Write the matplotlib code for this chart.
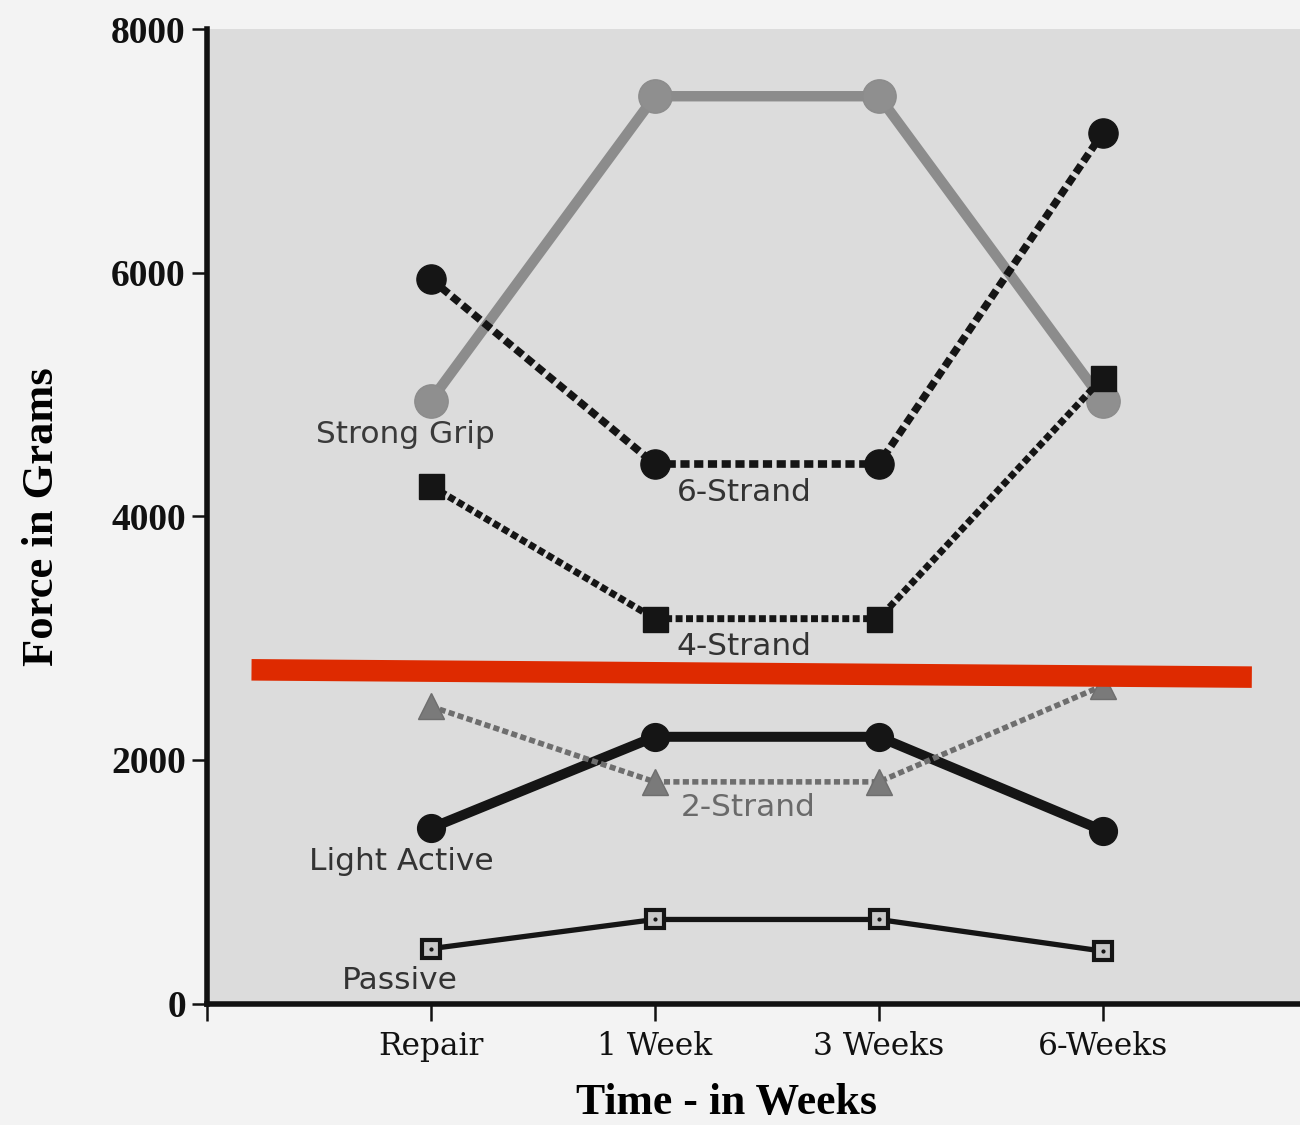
import numpy as np
import matplotlib.pyplot as plt

# Tendon repair strength vs. force applied during rehabilitation
times = ['Repair', '1 Week', '3 Weeks', '6-Weeks']
strong_grip = [4950, 7450, 7450, 4950]
six_strand = [5950, 4430, 4430, 7150]
four_strand = [4250, 3160, 3160, 5140]
two_strand = [2440, 1820, 1820, 2610]
light_active = [1440, 2190, 2190, 1420]
passive = [450, 690, 690, 430]

# red reference level drawn across the plot
ref_x = [0.2, 4.665]
ref_y = [2740, 2680]

plt.rcParams['font.family'] = 'Liberation Serif'

fig = plt.figure(figsize=(13, 11.25), dpi=100, facecolor='#f3f3f3')
ax = fig.add_axes([0.159, 0.108, 0.841, 0.866])
ax.set_facecolor('#dcdcdc')

x = np.arange(1, len(times) + 1)

ax.plot(x, passive, color='#151515', lw=3.8, marker='s', ms=13,
        mfc='#c8c8c8', mec='#151515', mew=3, zorder=3)
ax.plot(x, passive, ls='none', marker='.', ms=4, color='#151515', zorder=4)
ax.plot(x, light_active, color='#151515', lw=7.2, marker='o', ms=20,
        mfc='#151515', mec='#151515', zorder=3)
ax.plot(x, two_strand, color='#6e6e6e', lw=4, ls=(0, (1.1, 0.6)),
        marker='^', ms=19, mfc='#7a7a7a', mec='#6e6e6e', zorder=3)
ax.plot(x, four_strand, color='#151515', lw=5, ls=(0, (1.0, 0.5)),
        marker='s', ms=18, mfc='#151515', mec='#151515', zorder=3)
ax.plot(x, six_strand, color='#151515', lw=5.5, ls=(0, (1.2, 0.6)),
        marker='o', ms=21, mfc='#151515', mec='#151515', zorder=3)
ax.plot(x, strong_grip, color='#8c8c8c', lw=7.5, marker='o', ms=24,
        mfc='#8f8f8f', mec='#8c8c8c', zorder=2)

ax.plot(ref_x, ref_y, color='#de2a00', lw=15.5, solid_capstyle='butt', zorder=6)

# curve labels
lab = dict(family='DejaVu Sans', fontsize=22.5, ha='center', va='center')
ax.text(0.885, 4670, 'Strong Grip', color='#3a3a3a', **lab)
ax.text(2.40, 4200, '6-Strand', color='#333333', **lab)
ax.text(2.40, 2930, '4-Strand', color='#333333', **lab)
ax.text(2.415, 1610, '2-Strand', color='#6a6a6a', **lab)
ax.text(0.87, 1170, 'Light Active', color='#333333', **lab)
ax.text(0.86, 185, 'Passive', color='#333333', **lab)

ax.set_xlim(0, 4.88)
ax.set_ylim(0, 8000)
ax.set_xticks([0] + list(x))
ax.set_xticklabels([''] + times, fontsize=22.5, family='DejaVu Serif')
ax.set_yticks([0, 2000, 4000, 6000, 8000])
ax.set_yticklabels(['0', '2000', '4000', '6000', '8000'],
                   fontsize=27, fontweight='bold')

for side in ['top', 'right']:
    ax.spines[side].set_visible(False)
for side in ['left', 'bottom']:
    ax.spines[side].set_linewidth(4)
    ax.spines[side].set_color('#111111')

ax.tick_params(axis='y', length=11, width=1.8, pad=4, colors='#111111')
ax.tick_params(axis='x', length=12, width=1.8, pad=8, colors='#111111')

ax.set_xlabel('Time - in Weeks', fontsize=31.5, fontweight='bold')
ax.set_ylabel('Force in Grams', fontsize=32, fontweight='bold')
ax.xaxis.set_label_coords(0.475, -0.082)
ax.yaxis.set_label_coords(-0.132, 0.5)

plt.savefig('out.png', dpi=100, facecolor=fig.get_facecolor())
